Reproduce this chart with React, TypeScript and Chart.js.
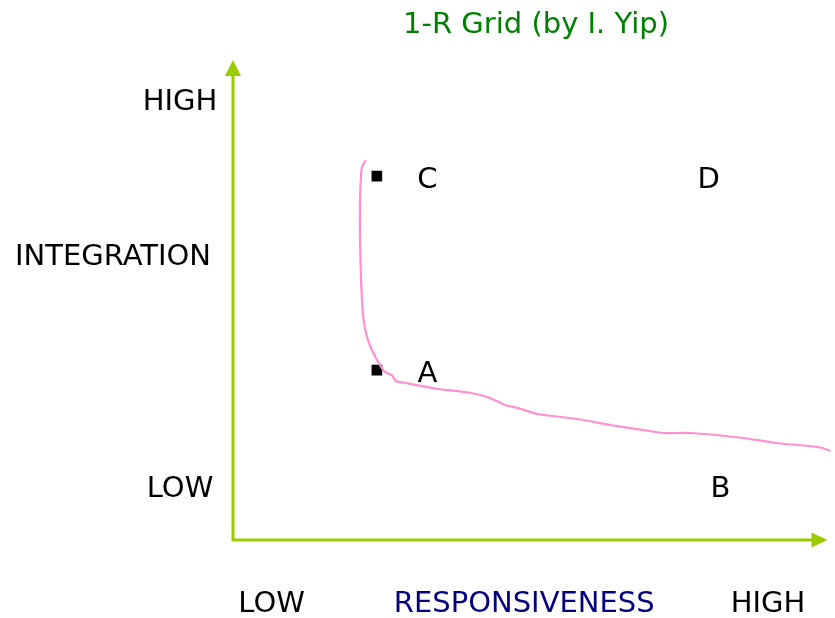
import React, { useEffect, useRef } from "react";
import { Chart, registerables } from "chart.js";

Chart.register(...registerables);

// ---- data (logical 0..10 grid coordinates) ----
const titleText = "1-R Grid (by I. Yip)";
const yAxisTitle = "INTEGRATION";
const xAxisTitle = "RESPONSIVENESS";
const yTickLabels = ["LOW", "HIGH"];
const yTickValues = [1.125, 9.17];
const xTickLabels = ["LOW", "HIGH"];
const xTickValues = [0.65, 9.0];

const quadrantLabels = ["C", "D", "A", "B"];
const quadrantX = [3.27, 8.0, 3.27, 8.2];
const quadrantY = [7.56, 7.56, 3.52, 1.125];

const markerX = [2.42, 2.42];
const markerY = [7.58, 3.54];

const curveX = [
  2.237, 2.17, 2.154, 2.137, 2.137, 2.154, 2.17, 2.187, 2.22, 2.27, 2.337,
  2.404, 2.471, 2.538, 2.588, 2.671, 2.738, 2.905, 3.456, 4.007, 4.324, 4.574,
  4.791, 5.125, 5.793, 6.344, 7.012, 7.245, 7.679, 8.13, 8.581, 9.132, 9.683,
  9.917, 10.05,
];
const curveY = [
  7.917, 7.771, 7.604, 7.083, 6.25, 5.417, 5.0, 4.688, 4.417, 4.167, 3.958,
  3.792, 3.646, 3.521, 3.479, 3.438, 3.313, 3.271, 3.146, 3.063, 2.958, 2.813,
  2.75, 2.625, 2.521, 2.396, 2.271, 2.229, 2.229, 2.188, 2.125, 2.021, 1.958,
  1.917, 1.854,
];

const FONT = '29px "DejaVu Sans", Verdana, sans-serif';
const AXIS_GREEN = "#99cc00";

const overlayPlugin = {
  id: "gridOverlay",
  afterDatasetsDraw(chart: any) {
    const { ctx, chartArea, scales } = chart;
    const xs = scales.x;
    const ys = scales.y;
    const left = chartArea.left;
    const bottom = chartArea.bottom;
    const top = chartArea.top;
    const right = chartArea.right;
    ctx.save();
    // axes
    ctx.strokeStyle = AXIS_GREEN;
    ctx.fillStyle = AXIS_GREEN;
    ctx.lineWidth = 3;
    ctx.beginPath();
    ctx.moveTo(left, top + 14);
    ctx.lineTo(left, bottom);
    ctx.lineTo(right - 14, bottom);
    ctx.stroke();
    // arrow heads
    ctx.beginPath();
    ctx.moveTo(left, top);
    ctx.lineTo(left - 8, top + 16);
    ctx.lineTo(left + 8, top + 16);
    ctx.closePath();
    ctx.fill();
    ctx.beginPath();
    ctx.moveTo(right, bottom);
    ctx.lineTo(right - 16, bottom - 7.5);
    ctx.lineTo(right - 16, bottom + 7.5);
    ctx.closePath();
    ctx.fill();

    ctx.font = FONT;
    ctx.textAlign = "center";
    ctx.textBaseline = "alphabetic";
    const capHalf = 10.5;

    // y tick labels
    ctx.fillStyle = "#000000";
    yTickLabels.forEach((t, i) => {
      ctx.fillText(t, left - 53, ys.getPixelForValue(yTickValues[i]) + capHalf);
    });
    // y title
    ctx.fillText(yAxisTitle, left - 120, top + 194 + capHalf);
    // x tick labels
    const labelRowY = bottom + 61 + capHalf;
    xTickLabels.forEach((t, i) => {
      ctx.fillText(t, xs.getPixelForValue(xTickValues[i]), labelRowY);
    });
    // x title
    ctx.fillStyle = "#000080";
    ctx.fillText(xAxisTitle, (left + right) / 2 - 6, labelRowY);
    // quadrant letters
    ctx.fillStyle = "#000000";
    quadrantLabels.forEach((t, i) => {
      ctx.fillText(
        t,
        xs.getPixelForValue(quadrantX[i]),
        ys.getPixelForValue(quadrantY[i]) + capHalf
      );
    });
    // title
    ctx.fillStyle = "#008000";
    ctx.fillText(titleText, 536, 22 + capHalf);
    ctx.restore();
  },
};

export default function App() {
  const ref = useRef<HTMLCanvasElement>(null);
  useEffect(() => {
    document.body.style.margin = "0";
    const canvas = ref.current!;
    const chart = new Chart(canvas, {
      type: "scatter",
      data: {
        datasets: [
          {
            label: "curve",
            data: curveX.map((x, i) => ({ x, y: curveY[i] })),
            showLine: true,
            borderColor: "#ff8fcf",
            borderWidth: 2.2,
            pointRadius: 0,
            tension: 0.2,
            clip: false as any,
          },
          {
            label: "markers",
            data: markerX.map((x, i) => ({ x, y: markerY[i] })),
            showLine: false,
            pointStyle: "rect",
            pointRadius: 7.5,
            pointBorderWidth: 0,
            backgroundColor: "#000000",
            borderColor: "#000000",
          },
        ],
      },
      options: {
        animation: false,
        responsive: false,
        events: [],
        layout: { padding: { left: 233, right: 3, top: 60, bottom: 78 } },
        plugins: {
          legend: { display: false },
          title: { display: false },
          tooltip: { enabled: false },
        },
        scales: {
          x: { type: "linear", min: 0, max: 10, display: false },
          y: { type: "linear", min: 0, max: 10, display: false },
        },
      },
      plugins: [overlayPlugin],
    });
    return () => chart.destroy();
  }, []);
  return (
    <div style={{ position: "absolute", left: 0, top: 0, width: 835, height: 618, background: "#ffffff" }}>
      <canvas ref={ref} width={835} height={618} />
    </div>
  );
}
